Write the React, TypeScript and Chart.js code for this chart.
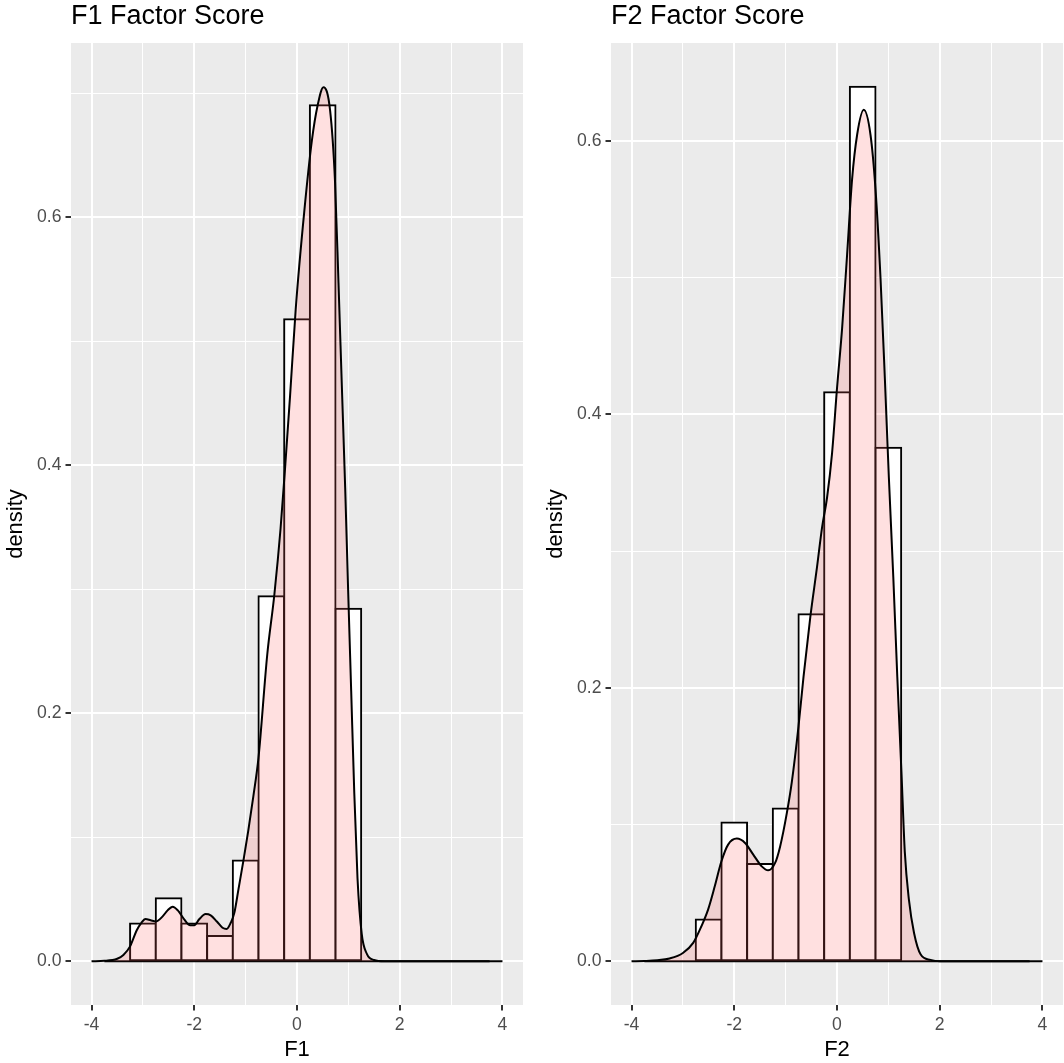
import React, { useEffect, useRef } from 'react';
import { Chart, registerables } from 'chart.js';

Chart.register(...registerables);

// ---------- data ----------
const xTickValues = [-4, -3, -2, -1, 0, 1, 2, 3, 4];

const f1BinCenters = [-3.5, -3, -2.5, -2, -1.5, -1, -0.5, 0, 0.5, 1, 1.5, 2, 2.5, 3, 3.5];
const f1BinDensity = [0, 0.0305, 0.0508, 0.0305, 0.0203, 0.0812, 0.2944, 0.5178, 0.6904, 0.2843, 0, 0, 0, 0, 0];
const f1DensX = [-4, -3.75, -3.5, -3.38, -3.25, -3.12, -3.03, -2.95, -2.85, -2.75, -2.62, -2.52, -2.42, -2.32, -2.2, -2.08, -2.0, -1.9, -1.78, -1.68, -1.56, -1.45, -1.37, -1.29, -1.22, -1.14, -1.04, -0.95, -0.85, -0.75, -0.58, -0.44, -0.32, -0.23, -0.135, -0.025, 0.14, 0.29, 0.4, 0.515, 0.645, 0.74, 0.808, 0.873, 0.938, 0.995, 1.055, 1.115, 1.178, 1.26, 1.36, 1.5, 1.7, 2.0, 4.0];
const f1DensY = [0, 0.0003, 0.002, 0.005, 0.012, 0.025, 0.031, 0.034, 0.033, 0.032, 0.036, 0.041, 0.044, 0.041, 0.034, 0.029, 0.029, 0.034, 0.038, 0.037, 0.032, 0.027, 0.026, 0.031, 0.039, 0.058, 0.082, 0.105, 0.133, 0.164, 0.247, 0.296, 0.349, 0.399, 0.456, 0.526, 0.604, 0.662, 0.69, 0.705, 0.686, 0.629, 0.547, 0.464, 0.382, 0.3, 0.218, 0.136, 0.067, 0.022, 0.006, 0.001, 0, 0, 0];
const f1YTicks = [0, 0.1, 0.2, 0.3, 0.4, 0.5, 0.6, 0.7];
const f1YRange = [-0.0353, 0.7406];

const f2BinCenters = [-3.5, -3, -2.5, -2, -1.5, -1, -0.5, 0, 0.5, 1, 1.5, 2, 2.5, 3, 3.5];
const f2BinDensity = [0, 0, 0.0305, 0.1015, 0.0711, 0.1117, 0.2538, 0.4162, 0.6396, 0.3756, 0, 0, 0, 0, 0];
const f2DensX = [-4, -3.75, -3.5, -3.26, -3.0, -2.8, -2.64, -2.51, -2.38, -2.25, -2.12, -1.95, -1.79, -1.63, -1.465, -1.34, -1.205, -1.107, -0.976, -0.88, -0.75, -0.652, -0.52, -0.39, -0.292, -0.194, -0.096, 0.0, 0.099, 0.197, 0.294, 0.392, 0.521, 0.652, 0.75, 0.848, 0.932, 1.01, 1.096, 1.174, 1.258, 1.32, 1.4, 1.5, 1.63, 1.82, 2.0, 4.0];
const f2DensY = [0, 0.0002, 0.0007, 0.002, 0.006, 0.0134, 0.0256, 0.0378, 0.0548, 0.0731, 0.0853, 0.0897, 0.0865, 0.078, 0.0694, 0.0665, 0.0719, 0.084, 0.1085, 0.131, 0.1716, 0.208, 0.2517, 0.288, 0.317, 0.339, 0.3717, 0.419, 0.4627, 0.517, 0.572, 0.6045, 0.6227, 0.6045, 0.5645, 0.499, 0.426, 0.3536, 0.281, 0.208, 0.1353, 0.08, 0.045, 0.0207, 0.0049, 0.001, 0, 0];
const f2YTicks = [0, 0.1, 0.2, 0.3, 0.4, 0.5, 0.6];
const f2YRange = [-0.032, 0.6716];

const binWidth = 0.5;
const xRange = [-4.4, 4.4];

// ---------- styling ----------
const FONT = '"Liberation Sans", Arial, Helvetica, sans-serif';

const bgPlugin = {
  id: 'panelBg',
  beforeDraw(chart: any) {
    const { ctx, chartArea } = chart;
    ctx.save();
    ctx.fillStyle = '#EBEBEB';
    ctx.fillRect(chartArea.left, chartArea.top, chartArea.right - chartArea.left, chartArea.bottom - chartArea.top);
    ctx.restore();
  },
};

type PanelProps = {
  title: string;
  xLabel: string;
  binCenters: number[];
  binDensity: number[];
  densX: number[];
  densY: number[];
  yTicks: number[];
  yRange: number[];
  width: number;
  left: number;
  padRight: number;
};

function tickVal(c: any): number | null {
  if (c && c.tick && typeof c.tick.value === 'number') return c.tick.value;
  return null;
}

function Panel(p: PanelProps) {
  const ref = useRef<HTMLCanvasElement | null>(null);
  useEffect(() => {
    if (!ref.current) return;
    const firstEdge = p.binCenters[0] - binWidth / 2;
    const lastEdge = p.binCenters[p.binCenters.length - 1] + binWidth / 2;
    const isMajorX = (v: number | null) => v !== null && Math.round(v) % 2 === 0;
    const isMajorY = (v: number | null) => v !== null && Math.round(v * 10) % 2 === 0;
    const chart = new Chart(ref.current, {
      type: 'bar',
      data: {
        datasets: [
          {
            type: 'line',
            data: p.densX.map((x, i) => ({ x, y: p.densY[i] })),
            borderColor: '#000000',
            borderWidth: 2,
            backgroundColor: 'rgba(255,102,102,0.2)',
            fill: 'origin',
            pointRadius: 0,
            cubicInterpolationMode: 'monotone',
            order: 0,
          } as any,
          {
            type: 'line',
            data: [
              { x: firstEdge, y: 0 },
              { x: lastEdge, y: 0 },
            ],
            borderColor: '#000000',
            borderWidth: 2,
            pointRadius: 0,
            fill: false,
            order: 1,
          } as any,
          {
            type: 'bar',
            data: p.binCenters.map((x, i) => ({ x, y: p.binDensity[i] })),
            backgroundColor: '#FFFFFF',
            borderColor: '#000000',
            borderWidth: 2,
            borderSkipped: false,
            inflateAmount: 1,
            barPercentage: 1,
            categoryPercentage: 1,
            order: 2,
          } as any,
        ],
      },
      options: {
        responsive: false,
        maintainAspectRatio: false,
        animation: false,
        events: [],
        layout: { padding: { left: 0, right: p.padRight, top: 0, bottom: 0 } },
        plugins: {
          legend: { display: false },
          tooltip: { enabled: false },
          title: {
            display: true,
            text: p.title,
            align: 'start',
            fullSize: false,
            color: '#000000',
            font: { family: FONT, size: 27, weight: 'normal' },
            padding: { top: 0, bottom: 10.6 },
          },
        },
        scales: {
          x: {
            type: 'linear',
            min: xRange[0],
            max: xRange[1],
            offset: false,
            afterBuildTicks: (s: any) => {
              s.ticks = xTickValues.map((v) => ({ value: v }));
            },
            afterFit: (s: any) => {
              s.height = 58;
            },
            border: { display: false },
            grid: {
              offset: false,
              color: '#FFFFFF',
              lineWidth: (c: any) => (isMajorX(tickVal(c)) ? 2 : 1),
              drawTicks: true,
              tickLength: 5.5,
              tickWidth: 2,
              tickColor: (c: any) => (isMajorX(tickVal(c)) ? '#333333' : 'rgba(0,0,0,0)'),
            },
            ticks: {
              autoSkip: false,
              maxRotation: 0,
              padding: 4,
              color: '#4D4D4D',
              font: { family: FONT, size: 17.6 },
              callback: (v: any) => (isMajorX(Number(v)) ? String(v) : ''),
            },
            title: {
              display: true,
              text: p.xLabel,
              color: '#000000',
              font: { family: FONT, size: 22 },
              padding: { top: 0, bottom: 0 },
            },
          },
          y: {
            type: 'linear',
            min: p.yRange[0],
            max: p.yRange[1],
            afterBuildTicks: (s: any) => {
              s.ticks = p.yTicks.map((v) => ({ value: v }));
            },
            afterFit: (s: any) => {
              s.width = 71;
            },
            border: { display: false },
            grid: {
              offset: false,
              color: '#FFFFFF',
              lineWidth: (c: any) => (isMajorY(tickVal(c)) ? 2 : 1),
              drawTicks: true,
              tickLength: 5.5,
              tickWidth: 2,
              tickColor: (c: any) => (isMajorY(tickVal(c)) ? '#333333' : 'rgba(0,0,0,0)'),
            },
            ticks: {
              autoSkip: false,
              padding: 4,
              color: '#4D4D4D',
              font: { family: FONT, size: 17.6 },
              callback: (v: any) => (isMajorY(Number(v)) ? Number(v).toFixed(1) : ''),
            },
            title: {
              display: true,
              text: 'density',
              color: '#000000',
              font: { family: FONT, size: 22 },
              padding: { top: 3, bottom: 0 },
            },
          },
        },
      } as any,
      plugins: [bgPlugin],
    });
    return () => chart.destroy();
  }, []);
  return (
    <canvas
      ref={ref}
      width={p.width}
      height={1063}
      style={{ position: 'absolute', left: p.left, top: 0, width: p.width, height: 1063, display: 'block' }}
    />
  );
}

export default function App() {
  return (
    <div style={{ position: 'absolute', left: 0, top: 0, width: 1064, height: 1063, background: '#FFFFFF', overflow: 'hidden' }}>
      <Panel
        title="F1 Factor Score"
        xLabel="F1"
        binCenters={f1BinCenters}
        binDensity={f1BinDensity}
        densX={f1DensX}
        densY={f1DensY}
        yTicks={f1YTicks}
        yRange={f1YRange}
        width={540}
        left={0}
        padRight={17}
      />
      <Panel
        title="F2 Factor Score"
        xLabel="F2"
        binCenters={f2BinCenters}
        binDensity={f2BinDensity}
        densX={f2DensX}
        densY={f2DensY}
        yTicks={f2YTicks}
        yRange={f2YRange}
        width={524}
        left={540}
        padRight={1}
      />
    </div>
  );
}
